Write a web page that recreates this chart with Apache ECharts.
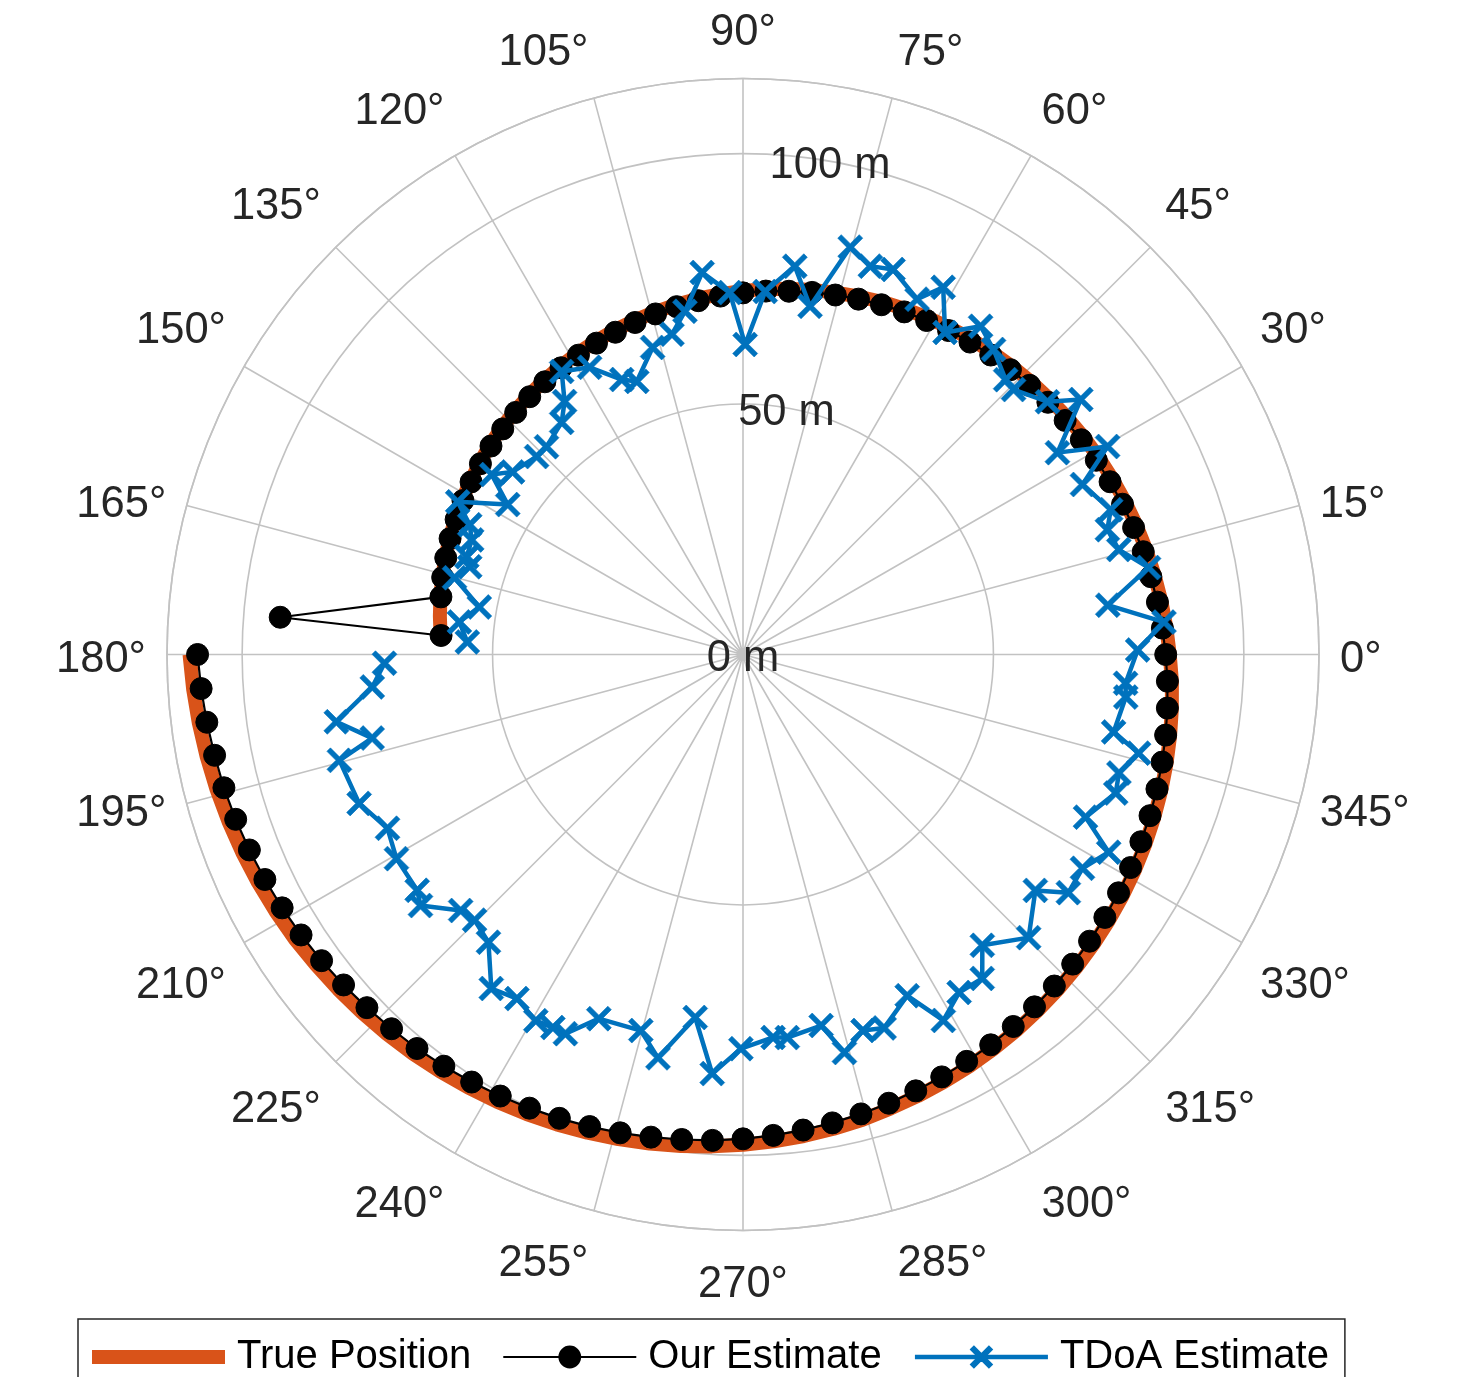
<!DOCTYPE html>
<html>
<head>
<meta charset="utf-8">
<script src="https://cdn.jsdelivr.net/npm/echarts@6/dist/echarts.min.js"></script>
<style>
html,body{margin:0;padding:0;background:#fff;}
#chart{width:1459px;height:1377px;}
</style>
</head>
<body>
<div id="chart"></div>
<script>
// ---- data (angle in degrees, range in metres) ----
const trueAngle = [176.4,172.8,169.2,165.6,162.0,158.4,154.8,151.2,147.6,144.0,140.4,136.8,133.2,129.6,126.0,122.4,118.8,115.2,111.6,108.0,104.4,100.8,97.2,93.6,90.0,86.4,82.8,79.2,75.6,72.0,68.4,64.8,61.2,57.6,54.0,50.4,46.8,43.2,39.6,36.0,32.4,28.8,25.2,21.6,18.0,14.4,10.8,7.2,3.6,0.0,356.4,352.8,349.2,345.6,342.0,338.4,334.8,331.2,327.6,324.0,320.4,316.8,313.2,309.6,306.0,302.4,298.8,295.2,291.6,288.0,284.4,280.8,277.2,273.6,270.0,266.4,262.8,259.2,255.6,252.0,248.4,244.8,241.2,237.6,234.0,230.4,226.8,223.2,219.6,216.0,212.4,208.8,205.2,201.6,198.0,194.4,190.8,187.2,183.6,180.0];
const trueRange = [60.5,61.0,61.5,62.0,62.5,63.0,63.5,64.0,64.5,65.0,65.6,66.1,66.6,67.1,67.6,68.1,68.6,69.1,69.6,70.1,70.6,71.1,71.6,72.1,72.6,73.1,73.6,74.1,74.6,75.1,75.7,76.2,76.7,77.2,77.7,78.2,78.7,79.2,79.7,80.2,80.7,81.2,81.7,82.2,82.7,83.2,83.7,84.2,84.7,85.2,85.8,86.3,86.8,87.3,87.8,88.3,88.8,89.3,89.8,90.3,90.8,91.3,91.8,92.3,92.8,93.3,93.8,94.3,94.8,95.3,95.9,96.4,96.9,97.4,97.9,98.4,98.9,99.4,99.9,100.4,100.9,101.4,101.9,102.4,102.9,103.4,103.9,104.4,104.9,105.4,106.0,106.5,107.0,107.5,108.0,108.5,109.0,109.5,110.0,110.5];

const estAngle = [176.4,175.4,169.2,165.6,162.0,158.4,154.8,151.2,147.6,144.0,140.4,136.8,133.2,129.6,126.0,122.4,118.8,115.2,111.6,108.0,104.4,100.8,97.2,93.6,90.0,86.4,82.8,79.2,75.6,72.0,68.4,64.8,61.2,57.6,54.0,50.4,46.8,43.2,39.6,36.0,32.4,28.8,25.2,21.6,18.0,14.4,10.8,7.2,3.6,0.0,356.4,352.8,349.2,345.6,342.0,338.4,334.8,331.2,327.6,324.0,320.4,316.8,313.2,309.6,306.0,302.4,298.8,295.2,291.6,288.0,284.4,280.8,277.2,273.6,270.0,266.4,262.8,259.2,255.6,252.0,248.4,244.8,241.2,237.6,234.0,230.4,226.8,223.2,219.6,216.0,212.4,208.8,205.2,201.6,198.0,194.4,190.8,187.2,183.6,180.0];
const estRange = [60.4,92.7,61.4,61.9,62.4,62.9,63.3,63.8,64.3,64.8,65.3,65.8,66.3,66.8,67.3,67.8,68.2,68.7,69.2,69.7,70.2,70.7,71.2,71.7,72.2,72.7,73.1,73.6,74.1,74.6,75.1,75.6,76.1,76.6,77.1,77.6,78.0,78.5,79.0,79.5,80.0,80.5,81.0,81.5,82.0,82.5,82.9,83.4,83.9,84.4,84.9,85.4,85.9,86.4,86.9,87.4,87.8,88.3,88.8,89.3,89.8,90.3,90.8,91.3,91.8,92.3,92.7,93.2,93.7,94.2,94.7,95.2,95.7,96.2,96.7,97.2,97.6,98.1,98.6,99.1,99.6,100.1,100.6,101.1,101.6,102.1,102.5,103.0,103.5,104.0,104.5,105.0,105.5,106.0,106.5,107.0,107.4,107.9,108.4,108.9];

const tdoaAngle = [177.4,173.45,169.8,165.1,162.2,160.5,157.1,154.6,151.85,147.5,144.4,141.6,136.2,133.4,128.0,125.2,122.65,118.1,113.8,111.25,106.4,102.5,99.6,96.1,92.1,89.6,86.5,82.4,79.1,75.25,71.85,68.7,63.9,61.4,57.9,54.1,50.6,46.3,44.4,39.7,37.05,32.7,29.7,26.6,21.5,18.9,15.6,12.1,7.7,4.4,0.65,355.7,353.65,348.2,346.0,342.5,339.6,334.6,331.6,327.8,323.8,321.1,315.25,309.45,306.45,302.6,298.7,295.7,290.7,287.7,284.3,281.9,276.6,274.5,269.7,265.8,262.5,258.1,254.8,248.4,244.9,243.0,240.5,236.7,233.0,228.5,224.7,222.2,217.9,215.9,210.5,206.05,201.2,194.7,192.7,189.4,185.0,181.4];
const tdoaRange = [55.1,57.0,53.5,59.6,57.3,58.5,58.8,60.4,64.6,55.7,61.7,58.7,57.1,57.1,58.8,61.8,67.1,65.0,60.0,58.5,63.9,65.5,69.5,76.7,72.3,61.9,72.6,78.2,70.8,84.1,81.6,82.5,79.0,83.5,75.9,80.9,78.8,75.9,75.6,79.0,84.5,74.6,83.8,75.8,78.9,76.9,77.9,82.8,73.5,84.3,78.8,76.6,76.9,75.6,81.4,78.7,79.4,75.7,83.0,80.1,80.5,75.0,80.3,75.2,80.4,80.1,83.3,75.6,79.7,78.8,82.0,75.7,77.0,76.7,78.7,83.9,73.1,82.3,77.8,78.2,83.6,83.6,84.0,82.2,83.5,76.7,75.4,76.1,81.6,80.3,80.3,79.0,82.2,83.3,75.9,82.3,74.3,71.6];

const radiusTicks = [0, 50, 100];
const radiusTickLabels = ['0 m', '50 m', '100 m'];
const angleTicks = [0,15,30,45,60,75,90,105,120,135,150,165,180,195,210,225,240,255,270,285,300,315,330,345];
const seriesNames = ['True Position', 'Our Estimate', 'TDoA Estimate'];

// ---- build ----
const pairs = (r, a) => r.map((v, i) => [v, a[i]]);
const FONT = "'Liberation Sans', Arial, Helvetica, sans-serif";
const TXT = '#262626';
const GRID = '#c2c2c2';
const FS = 43.5;
const BLUE = '#0072BD', ORANGE = '#D95319', BLACK = '#000000';
const crossPath = 'path://M0,2.8L2.8,0L10,7.2L17.2,0L20,2.8L12.8,10L20,17.2L17.2,20L10,12.8L2.8,20L0,17.2L7.2,10Z';

function rs(pad) { return {fontSize: FS, fontFamily: FONT, color: TXT, padding: pad}; }
function angleLabel(v) {
  if (angleTicks.indexOf(v) < 0) return '';
  const s = v + '°';
  if (v === 75) return '{l2|' + s + '}';
  if (v === 105) return '{r3b|' + s + '}';
  if (v === 255) return '{r3t|' + s + '}';
  if (v === 285) return '{l3t|' + s + '}';
  if (v === 0 || v === 15 || v === 165 || v === 180 || v === 195 || v === 345) return '{m|' + s + '}';
  if (v > 180) return '{t|' + s + '}';
  return '{b|' + s + '}';
}

const chart = echarts.init(document.getElementById('chart'), null, {renderer: 'canvas'});
chart.setOption({
  animation: false,
  backgroundColor: '#ffffff',
  polar: {center: [743, 654.5], radius: 576},
  angleAxis: {
    type: 'value', min: 0, max: 360, interval: 15,
    startAngle: 0, clockwise: false,
    axisLine: {show: true, lineStyle: {color: GRID, width: 1.6}},
    axisTick: {show: false},
    splitLine: {show: true, lineStyle: {color: GRID, width: 1.6}},
    axisLabel: {
      show: true, margin: 21, formatter: angleLabel,
      fontSize: FS, fontFamily: FONT, color: TXT,
      rich: {
        m: rs([10, 0, 0, 0]),
        t: rs([11, 0, 0, 0]),
        b: rs([0, 0, 3, 0]),
        l2: rs([0, 0, 3, 66]),
        r3b: rs([0, 90, 3, 0]),
        r3t: rs([11, 90, 0, 0]),
        l3t: rs([11, 0, 0, 90])
      }
    }
  },
  radiusAxis: {
    type: 'value', min: 0, max: 115, interval: 50,
    axisLine: {show: false}, axisTick: {show: false}, axisLabel: {show: false},
    splitLine: {show: true, lineStyle: {color: GRID, width: 1.6}}
  },
  legend: {
    data: [
      {name: seriesNames[0], icon: 'path://M0,0L133,0L133,14L0,14Z'},
      {name: seriesNames[1]},
      {name: seriesNames[2]}
    ],
    left: 78, top: 1319, orient: 'horizontal',
    padding: [18, 16, 10, 14],
    itemGap: 31, itemWidth: 133, itemHeight: 26,
    lineStyle: {width: 'inherit'},
    borderColor: '#262626', borderWidth: 1.5, backgroundColor: '#ffffff',
    textStyle: {fontSize: 40, fontFamily: FONT, color: '#000', padding: [4, 0, 0, 7]}
  },
  series: [
    {
      name: 'radius labels', type: 'scatter', coordinateSystem: 'polar',
      data: radiusTicks.map((r, i) => ({value: [r, 80], name: radiusTickLabels[i]})),
      symbolSize: 0.01, itemStyle: {color: TXT, opacity: 1}, silent: true, z: 10,
      label: {show: true, position: [0, 0], align: 'center', verticalAlign: 'middle',
              formatter: p => p.name, offset: [0, 5], opacity: 1,
              textBorderWidth: 0, fontSize: FS, fontFamily: FONT, color: TXT}
    },
    {
      name: seriesNames[0], type: 'line', coordinateSystem: 'polar',
      data: pairs(trueRange, trueAngle), symbol: 'none',
      lineStyle: {color: ORANGE, width: 14, cap: 'butt'},
      itemStyle: {color: ORANGE}, z: 2
    },
    {
      name: seriesNames[1], type: 'line', coordinateSystem: 'polar',
      data: pairs(estRange, estAngle), symbol: 'circle', symbolSize: 22, showAllSymbol: true,
      lineStyle: {color: BLACK, width: 2.2},
      itemStyle: {color: BLACK, borderColor: BLACK, borderWidth: 1}, z: 3
    },
    {
      name: seriesNames[2], type: 'line', coordinateSystem: 'polar',
      data: pairs(tdoaRange, tdoaAngle), symbol: crossPath, symbolSize: 25, showAllSymbol: true,
      lineStyle: {color: BLUE, width: 4.5},
      itemStyle: {color: BLUE, borderColor: BLUE, borderWidth: 0.6}, z: 4
    }
  ]
});
</script>
</body>
</html>
